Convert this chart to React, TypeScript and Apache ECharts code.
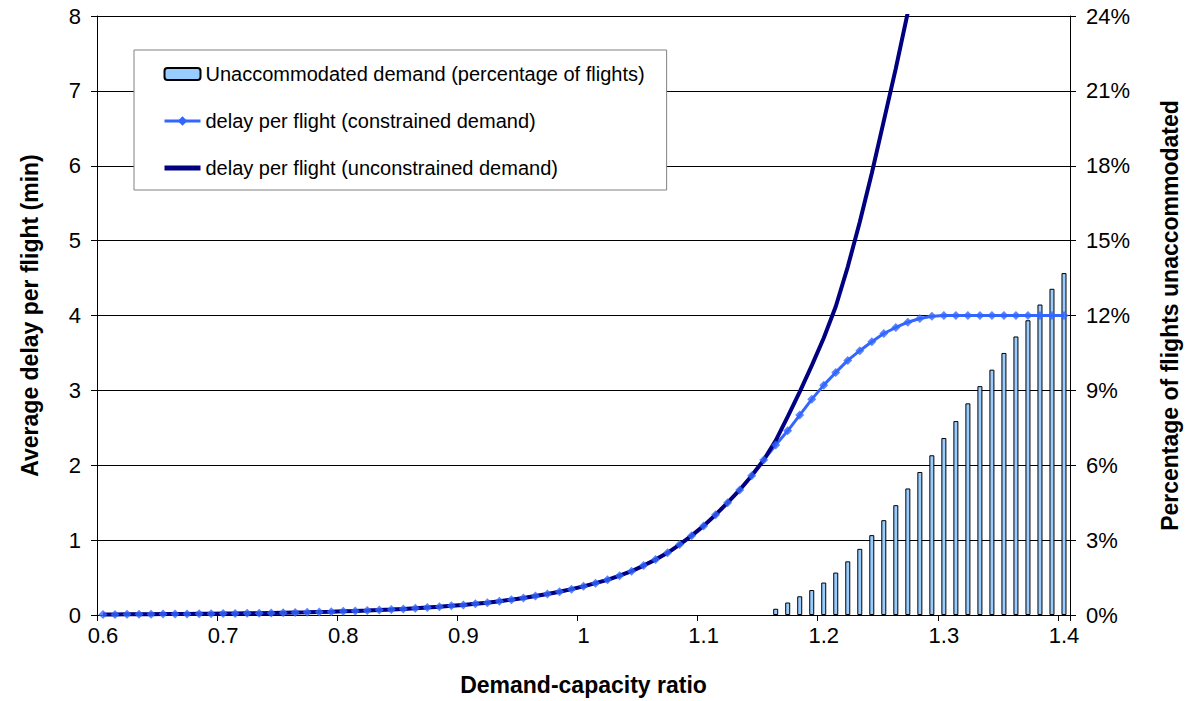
import React, { useEffect, useRef } from "react";
import * as echarts from "echarts";

// Demand-capacity ratio categories: 0.60 .. 1.40 step 0.01
const ratios: string[] = Array.from({ length: 81 }, (_, i) => (0.6 + i * 0.01).toFixed(2));

// Average delay per flight (min), constrained demand, one value per ratio
const delayConstrained: number[] = [
  0.007, 0.008, 0.009, 0.01, 0.011, 0.012, 0.013, 0.014, 0.016, 0.017,
  0.019, 0.021, 0.023, 0.025, 0.028, 0.031, 0.034, 0.037, 0.041, 0.045,
  0.05, 0.055, 0.06, 0.066, 0.073, 0.081, 0.09, 0.1, 0.11, 0.122,
  0.135, 0.15, 0.165, 0.185, 0.205, 0.228, 0.253, 0.28, 0.31, 0.345,
  0.383, 0.425, 0.47, 0.525, 0.585, 0.66, 0.74, 0.83, 0.94, 1.06,
  1.19, 1.34, 1.5, 1.67, 1.86, 2.07, 2.27, 2.46, 2.67, 2.88,
  3.07, 3.24, 3.4, 3.53, 3.65, 3.76, 3.84, 3.91, 3.96, 3.99,
  4.0, 4.0, 4.0, 4.0, 4.0, 4.0, 4.0, 4.0, 4.0, 4.0, 4.0,
];

// Average delay per flight (min), unconstrained demand (0.60 .. 1.27; beyond is off-chart)
const delayUnconstrained: number[] = [
  0.007, 0.008, 0.009, 0.01, 0.011, 0.012, 0.013, 0.014, 0.016, 0.017,
  0.019, 0.021, 0.023, 0.025, 0.028, 0.031, 0.034, 0.037, 0.041, 0.045,
  0.05, 0.055, 0.06, 0.066, 0.073, 0.081, 0.09, 0.1, 0.11, 0.122,
  0.135, 0.15, 0.165, 0.185, 0.205, 0.228, 0.253, 0.28, 0.31, 0.345,
  0.383, 0.425, 0.47, 0.525, 0.585, 0.66, 0.74, 0.83, 0.94, 1.06,
  1.19, 1.34, 1.5, 1.67, 1.86, 2.07, 2.33, 2.65, 2.98, 3.33,
  3.7, 4.12, 4.65, 5.25, 5.9, 6.6, 7.3, 8.05,
];

// Unaccommodated demand (% of flights), from ratio 1.16 to 1.40
const unaccommodatedStart = "1.16";
const unaccommodatedPct: number[] = [
  0.25, 0.5, 0.75, 1.0, 1.3, 1.7, 2.15, 2.65, 3.2, 3.8,
  4.4, 5.07, 5.73, 6.4, 7.09, 7.77, 8.48, 9.17, 9.83, 10.5,
  11.16, 11.81, 12.44, 13.07, 13.7,
];

const leftTicks = { min: 0, max: 8, interval: 1 };
const rightTicks = { min: 0, max: 24, interval: 3 };

const names = {
  bar: "Unaccommodated demand (percentage of flights)",
  constrained: "delay per flight (constrained demand)",
  unconstrained: "delay per flight (unconstrained demand)",
};

const FONT = "'Liberation Sans', Arial, sans-serif";
const TICK_SIZE = 22;
const TITLE_SIZE = 23;

export default function App() {
  const ref = useRef<HTMLDivElement>(null);

  useEffect(() => {
    if (!ref.current) return;
    const chart = echarts.init(ref.current, undefined, { renderer: "svg" });
    const startIdx = ratios.indexOf(unaccommodatedStart);
    const barData = unaccommodatedPct.map((v, i) => [ratios[startIdx + i], v]);

    const titleStyle = { fontFamily: FONT, fontSize: TITLE_SIZE, fontWeight: "bold", color: "#000" };
    const labelStyle = { fontFamily: FONT, fontSize: TICK_SIZE, color: "#000" };

    chart.setOption({
      animation: false,
      backgroundColor: "#ffffff",
      textStyle: { fontFamily: FONT },
      grid: { left: 97, top: 16, width: 975, height: 600, containLabel: false },
      legend: {
        data: [
          { name: names.bar },
          { name: names.constrained, lineStyle: { width: 3, color: "#3366FF" } },
          {
            name: names.unconstrained,
            itemStyle: { opacity: 0 },
            lineStyle: { width: 5, color: "#000080" },
          },
        ],
        orient: "vertical",
        left: 134,
        top: 50,
        padding: [14, 22, 12, 28],
        itemGap: 27,
        itemWidth: 36,
        itemHeight: 12,
        backgroundColor: "#ffffff",
        borderColor: "#808080",
        borderWidth: 1,
        borderRadius: 0,
        textStyle: { fontFamily: FONT, fontSize: 20, color: "#000" },
        selectedMode: false,
      },
      xAxis: {
        type: "category",
        data: ratios,
        boundaryGap: true,
        name: "Demand-capacity ratio",
        nameLocation: "middle",
        nameGap: 58,
        nameTextStyle: titleStyle,
        axisLine: { lineStyle: { color: "#000", width: 1 } },
        axisTick: { show: true, interval: 9, length: 6, lineStyle: { color: "#000" } },
        axisLabel: {
          interval: 9,
          margin: 9,
          ...labelStyle,
          formatter: (v: string) => String(parseFloat(v)),
        },
        splitLine: { show: false },
      },
      yAxis: [
        {
          type: "value",
          ...leftTicks,
          position: "left",
          name: "Average delay per flight (min)",
          nameLocation: "middle",
          nameRotate: 90,
          nameGap: 56,
          nameTextStyle: titleStyle,
          axisLine: { show: true, lineStyle: { color: "#000", width: 1 } },
          axisTick: { show: true, length: 6, lineStyle: { color: "#000" } },
          axisLabel: { margin: 16, ...labelStyle },
          splitLine: { show: true, lineStyle: { color: "#000", width: 1 } },
        },
        {
          type: "value",
          ...rightTicks,
          position: "right",
          name: "Percentage of flights unaccommodated",
          nameLocation: "middle",
          nameRotate: 90,
          nameGap: 88,
          nameTextStyle: titleStyle,
          axisLine: { show: true, lineStyle: { color: "#000", width: 1 } },
          axisTick: { show: true, length: 6, lineStyle: { color: "#000" } },
          axisLabel: {
            margin: 16,
            ...labelStyle,
            formatter: (v: number) => v + "%",
          },
          splitLine: { show: false },
        },
      ],
      series: [
        {
          name: names.bar,
          type: "bar",
          yAxisIndex: 1,
          data: barData,
          barWidth: 5,
          itemStyle: { color: "#99CCFF", borderColor: "#000", borderWidth: 1 },
          z: 1,
        },
        {
          name: names.constrained,
          type: "line",
          data: delayConstrained,
          symbol: "diamond",
          symbolSize: 9,
          showSymbol: false,
          itemStyle: { color: "#3366FF" },
          lineStyle: { color: "#3366FF", width: 3 },
          z: 2,
        },
        {
          name: names.unconstrained,
          type: "line",
          data: delayUnconstrained,
          symbol: "circle",
          showSymbol: false,
          itemStyle: { color: "#000080" },
          lineStyle: { color: "#000080", width: 4 },
          z: 3,
        },
        {
          name: "constrained-markers",
          type: "scatter",
          data: delayConstrained,
          symbol: "diamond",
          symbolSize: 9,
          itemStyle: { color: "#3366FF" },
          z: 4,
        },
      ],
    });
    return () => chart.dispose();
  }, []);

  return (
    <div
      ref={ref}
      style={{ position: "absolute", left: 0, top: 0, width: 1189, height: 701 }}
    />
  );
}
